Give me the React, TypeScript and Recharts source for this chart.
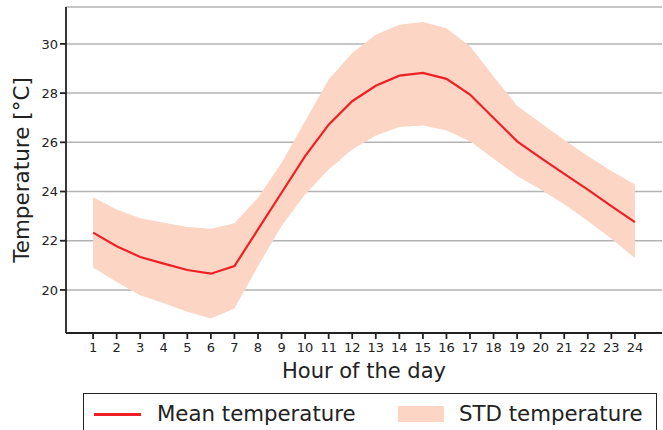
import {
  ComposedChart,
  Area,
  Line,
  XAxis,
  YAxis,
  CartesianGrid,
  Legend,
} from "recharts";

const hours = [1, 2, 3, 4, 5, 6, 7, 8, 9, 10, 11, 12, 13, 14, 15, 16, 17, 18, 19, 20, 21, 22, 23, 24];
const meanTemp = [
  22.33, 21.78, 21.34, 21.07, 20.81, 20.66, 20.97, 22.46, 23.95, 25.44, 26.72, 27.67,
  28.3, 28.71, 28.82, 28.58, 27.94, 26.99, 26.04, 25.37, 24.72, 24.08, 23.41, 22.76,
];
const upperTemp = [
  23.77, 23.27, 22.91, 22.73, 22.56, 22.49, 22.71, 23.75, 25.17, 26.86, 28.55, 29.63,
  30.37, 30.78, 30.89, 30.64, 29.9, 28.68, 27.49, 26.79, 26.09, 25.44, 24.83, 24.29,
];
const lowerTemp = [
  20.91, 20.32, 19.78, 19.46, 19.11, 18.84, 19.25, 20.97, 22.6, 23.88, 24.9, 25.71,
  26.28, 26.62, 26.68, 26.48, 26.04, 25.33, 24.63, 24.08, 23.48, 22.8, 22.08, 21.3,
];
const yTicks = [20, 22, 24, 26, 28, 30];

const data = hours.map((h, i) => ({
  hour: h,
  mean: meanTemp[i],
  std: [lowerTemp[i], upperTemp[i]],
}));

const font = "DejaVu Sans, sans-serif";
const ink = "#222";
const xDomain: [number, number] = [-0.15, 25.15];
const yDomain: [number, number] = [18.25, 31.5];

function LegendBox() {
  return (
    <div style={{ position: "relative", height: 37, fontFamily: font }}>
      <div
        style={{
          position: "absolute",
          left: 83,
          top: 0,
          width: 574,
          height: 50,
          border: `1.5px solid ${ink}`,
          boxSizing: "border-box",
          background: "#fff",
        }}
      >
        <div style={{ position: "absolute", left: 10, top: 19, width: 47, height: 3, background: "#ee2024" }} />
        <div style={{ position: "absolute", left: 73, top: 7, fontSize: 21.3, color: ink, whiteSpace: "nowrap" }}>
          Mean temperature
        </div>
        <div style={{ position: "absolute", left: 314, top: 12, width: 46, height: 16, background: "#fcd5c5" }} />
        <div style={{ position: "absolute", left: 375, top: 7, fontSize: 21.3, color: ink, whiteSpace: "nowrap" }}>
          STD temperature
        </div>
      </div>
    </div>
  );
}

export default function App() {
  return (
    <div style={{ position: "absolute", left: 0, top: 0, width: 663, height: 430, overflow: "hidden", background: "#fff" }}>
      <ComposedChart
        width={663}
        height={430}
        data={data}
        margin={{ top: 7, right: 1, bottom: 0, left: 0 }}
      >
        <XAxis
          dataKey="hour"
          type="number"
          domain={xDomain}
          ticks={hours}
          interval={0}
          allowDataOverflow
          height={60}
          stroke={ink}
          strokeWidth={1.8}
          tickSize={6}
          tick={{ fill: ink, fontSize: 13, fontFamily: font, dy: 2 }}
          label={{ value: "Hour of the day", position: "insideBottom", offset: 15, fill: ink, fontSize: 21, fontFamily: font }}
        />
        <XAxis xAxisId="top" orientation="top" type="number" domain={xDomain} height={0} tick={false} tickLine={false} stroke={ink} strokeWidth={1.8} />
        <YAxis
          type="number"
          domain={yDomain}
          ticks={yTicks}
          allowDataOverflow
          width={66}
          stroke={ink}
          strokeWidth={1.8}
          tickSize={6}
          tick={{ fill: ink, fontSize: 13, fontFamily: font }}
          label={{ value: "Temperature [°C]", angle: -90, position: "insideLeft", offset: 21, fill: ink, fontSize: 21.5, fontFamily: font, style: { textAnchor: "middle" } }}
        />
        <YAxis yAxisId="right" orientation="right" type="number" domain={yDomain} width={0} tick={false} tickLine={false} stroke={ink} strokeWidth={1.8} />
        <Area
          dataKey="std"
          type="linear"
          stroke="none"
          fill="#fcd5c5"
          fillOpacity={1}
          isAnimationActive={false}
          name="STD temperature"
        />
        <CartesianGrid vertical={false} stroke="#b3b3b3" strokeWidth={1.5} />
        <Line
          dataKey="mean"
          type="linear"
          stroke="#ee2024"
          strokeWidth={2.2}
          dot={false}
          isAnimationActive={false}
          name="Mean temperature"
        />
        <Legend verticalAlign="bottom" content={() => <LegendBox />} wrapperStyle={{ left: 0, width: 663 }} />
      </ComposedChart>
    </div>
  );
}
